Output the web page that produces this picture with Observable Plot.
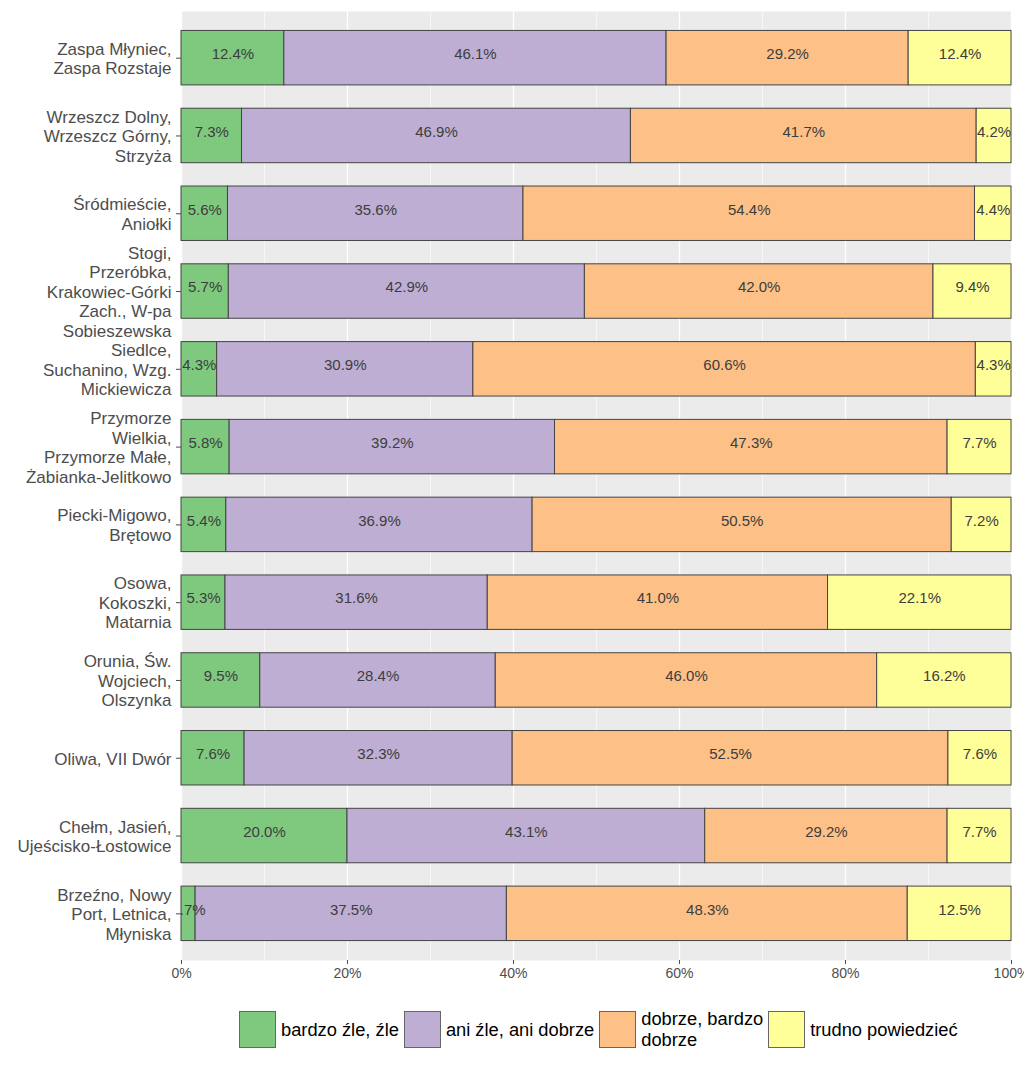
<!DOCTYPE html>
<html>
<head>
<meta charset="utf-8">
<script src="https://cdn.jsdelivr.net/npm/d3@7"></script>
<script src="https://cdn.jsdelivr.net/npm/@observablehq/plot@0.6"></script>
<style>
  body { margin: 0; background: #fff; font-family: "Liberation Sans", Arial, sans-serif; }
  #legend { display: flex; align-items: center; margin-left: 239px; padding-top: 18px; font-size: 18.3px; color: #000; }
  .key { width: 35px; height: 35px; border: 1px solid #666; flex: none; }
  .lab { margin: 0 5px 0 5px; line-height: 21px; white-space: pre; }
</style>
</head>
<body>
<div id="chart"></div>
<div id="legend"></div>
<script>
const regions = [
  "Zaspa Młyniec,\nZaspa Rozstaje",
  "Wrzeszcz Dolny,\nWrzeszcz Górny,\nStrzyża",
  "Śródmieście,\nAniołki",
  "Stogi,\nPrzeróbka,\nKrakowiec-Górki\nZach., W-pa\nSobieszewska",
  "Siedlce,\nSuchanino, Wzg.\nMickiewicza",
  "Przymorze\nWielkia,\nPrzymorze Małe,\nŻabianka-Jelitkowo",
  "Piecki-Migowo,\nBrętowo",
  "Osowa,\nKokoszki,\nMatarnia",
  "Orunia, Św.\nWojciech,\nOlszynka",
  "Oliwa, VII Dwór",
  "Chełm, Jasień,\nUjeścisko-Łostowice",
  "Brzeźno, Nowy\nPort, Letnica,\nMłyniska"
];
const categories = ["bardzo źle, źle", "ani źle, ani dobrze", "dobrze, bardzo\ndobrze", "trudno powiedzieć"];
const colors = ["#7FC97F", "#BEAED4", "#FDC086", "#FFFF99"];
const bad     = [12.4, 7.3, 5.6, 5.7, 4.3, 5.8, 5.4, 5.3, 9.5, 7.6, 20.0, 1.7];
const neutral = [46.1, 46.9, 35.6, 42.9, 30.9, 39.2, 36.9, 31.6, 28.4, 32.3, 43.1, 37.5];
const good    = [29.2, 41.7, 54.4, 42.0, 60.6, 47.3, 50.5, 41.0, 46.0, 52.5, 29.2, 48.3];
const hard    = [12.4, 4.2, 4.4, 9.4, 4.3, 7.7, 7.2, 22.1, 16.2, 7.6, 7.7, 12.5];
const xTicks = [0, 0.2, 0.4, 0.6, 0.8, 1];
const xMinor = [0.1, 0.3, 0.5, 0.7, 0.9];

const series = [bad, neutral, good, hard];
const data = [];
categories.forEach((cat, ci) => {
  regions.forEach((region, ri) => {
    data.push({region, cat, value: series[ci][ri]});
  });
});

const stackOpts = {x: "value", y: "region", z: "cat", offset: "normalize", order: categories};

const plot = Plot.plot({
  width: 1024,
  height: 990,
  marginLeft: 181,
  marginRight: 13,
  marginTop: 11,
  marginBottom: 30,
  style: {fontFamily: "'Liberation Sans', Arial, sans-serif", background: "#fff"},
  x: {domain: [0, 1]},
  y: {domain: regions, paddingInner: 0.3, paddingOuter: 0.25, round: false},
  color: {domain: categories, range: colors},
  marks: [
    Plot.frame({fill: "#ebebeb", stroke: "none"}),
    Plot.ruleX(xMinor, {stroke: "#fff", strokeWidth: 0.6}),
    Plot.ruleX(xTicks, {stroke: "#fff", strokeWidth: 1.3}),
    Plot.barX(data, Plot.stackX({...stackOpts, fill: "cat", stroke: "#444", strokeWidth: 1})),
    Plot.textX(data, Plot.stackX({...stackOpts, text: d => d.value.toFixed(1) + "%", fill: "#3d3d3d", fontSize: 15, dy: -4, clip: true})),
    Plot.axisX({ticks: xTicks, tickFormat: d => Math.round(d * 100) + "%", fontSize: 14, color: "#4d4d4d", tickSize: 4, tickPadding: 4, label: null}),
    Plot.axisY({tickFormat: d => d, fontSize: 17, lineHeight: 1.15, color: "#4d4d4d", tickSize: 5, tickPadding: 5, label: null})
  ]
});
document.getElementById("chart").appendChild(plot);

const legend = document.getElementById("legend");
categories.forEach((cat, i) => {
  const k = document.createElement("div");
  k.className = "key";
  k.style.background = colors[i];
  legend.appendChild(k);
  const t = document.createElement("div");
  t.className = "lab";
  t.textContent = cat;
  legend.appendChild(t);
});
</script>
</body>
</html>
